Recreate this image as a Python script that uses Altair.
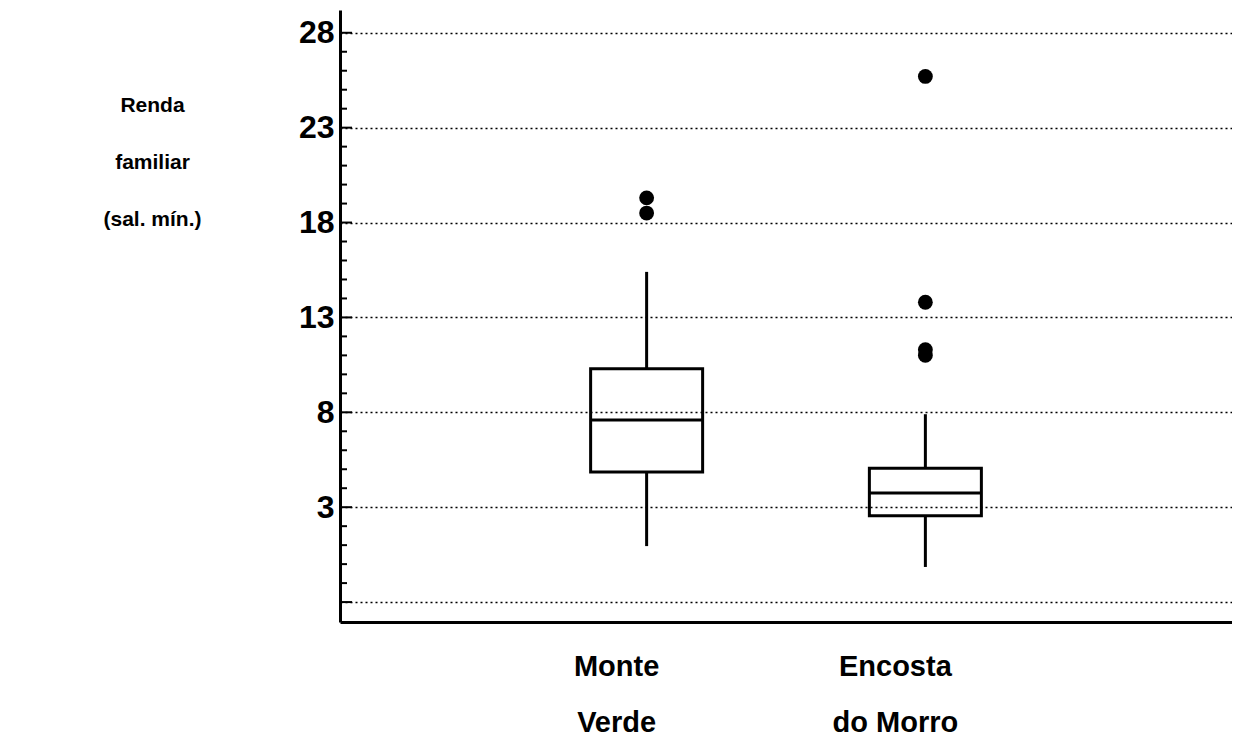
import altair as alt
import pandas as pd

# ---- data ----
groups = ["Monte Verde", "Encosta do Morro"]
label_lines = [["Monte", "Verde"], ["Encosta", "do Morro"]]
whisker_low = [0.95, -0.15]
q1 = [4.85, 2.55]
median = [7.6, 3.75]
q3 = [10.3, 5.05]
whisker_high = [15.4, 7.9]
outlier_group = ["Monte Verde", "Monte Verde",
                 "Encosta do Morro", "Encosta do Morro", "Encosta do Morro", "Encosta do Morro"]
outlier_value = [19.3, 18.5, 25.7, 13.8, 11.3, 11.0]

major_ticks = [-2, 3, 8, 13, 18, 23, 28]
minor_ticks = [v for v in range(-1, 28) if v not in major_ticks]
y_domain = [-3.05, 29.2]

FONT = "Liberation Sans"

stats = pd.DataFrame({"grupo": groups, "low": whisker_low, "q1": q1,
                      "med": median, "q3": q3, "high": whisker_high})
outl = pd.DataFrame({"grupo": outlier_group, "valor": outlier_value})
majors = pd.DataFrame({"v": major_ticks})
minors = pd.DataFrame({"v": minor_ticks})

label_expr = " : ".join(
    [f"datum.value == '{g}' ? {l}" for g, l in zip(groups, label_lines)]
) + " : datum.value"

x_enc = alt.X(
    "grupo:N",
    sort=groups,
    scale=alt.Scale(type="band", paddingInner=0.5, paddingOuter=0.85),
    axis=alt.Axis(
        title=None, ticks=False, grid=False, domainColor="black", domainWidth=3,
        labelExpr=label_expr, labelFont=FONT, labelFontWeight="bold",
        labelFontSize=29, labelColor="black", labelLineHeight=56,
        labelPadding=30, labelBaseline="top", labelOffset=-30, labelAngle=0,
    ),
)

y_scale = alt.Scale(domain=y_domain, nice=False, zero=False)
y_axis = alt.Axis(
    values=major_ticks, grid=True, gridColor="black", gridDash=[2, 3], gridWidth=1.4,
    ticks=False, domainColor="black", domainWidth=3,
    labelExpr="datum.value < 0 ? '' : datum.label",
    labelFont=FONT, labelFontWeight="bold", labelFontSize=32, labelColor="black",
    labelPadding=6,
    title=["Renda", "familiar", "(sal. mín.)"], titleAngle=0, titleAlign="center",
    titleBaseline="alphabetic", titleX=-188, titleY=101, titleLineHeight=57,
    titleFont=FONT, titleFontWeight="bold", titleFontSize=21, titleColor="black",
)

base = alt.Chart(stats)

lower_whisker = base.mark_rule(color="black", strokeWidth=3, opacity=1).encode(
    x=x_enc, y=alt.Y("low:Q", scale=y_scale, axis=y_axis), y2="q1:Q")
upper_whisker = base.mark_rule(color="black", strokeWidth=3, opacity=1).encode(
    x=x_enc, y=alt.Y("q3:Q", scale=y_scale, axis=y_axis), y2="high:Q")
box = base.mark_bar(fillOpacity=0, stroke="black", strokeWidth=3, strokeOpacity=1, size=112).encode(
    x=x_enc, y=alt.Y("q1:Q", scale=y_scale, axis=y_axis), y2="q3:Q")
med = base.mark_tick(color="black", thickness=3, size=112, opacity=1).encode(
    x=x_enc, y=alt.Y("med:Q", scale=y_scale, axis=y_axis))
pts = alt.Chart(outl).mark_circle(color="black", opacity=1, size=220).encode(
    x=x_enc, y=alt.Y("valor:Q", scale=y_scale, axis=y_axis))

major_marks = alt.Chart(majors).mark_rule(color="black", strokeWidth=2, opacity=1).encode(
    x=alt.value(0), x2=alt.value(12), y=alt.Y("v:Q", scale=y_scale, axis=y_axis))
minor_marks = alt.Chart(minors).mark_rule(color="black", strokeWidth=2, opacity=1).encode(
    x=alt.value(0), x2=alt.value(7), y=alt.Y("v:Q", scale=y_scale, axis=y_axis))

chart = alt.layer(
    lower_whisker, upper_whisker, box, med, pts, major_marks, minor_marks
).properties(
    width=892, height=612,
    background="white",
    autosize=alt.AutoSizeParams(type="none"),
    padding={"left": 332, "top": 2, "right": 0, "bottom": 122},
).configure_view(strokeWidth=0, stroke="transparent")

chart.save("out.html", embed_options={"renderer": "svg", "actions": False})
